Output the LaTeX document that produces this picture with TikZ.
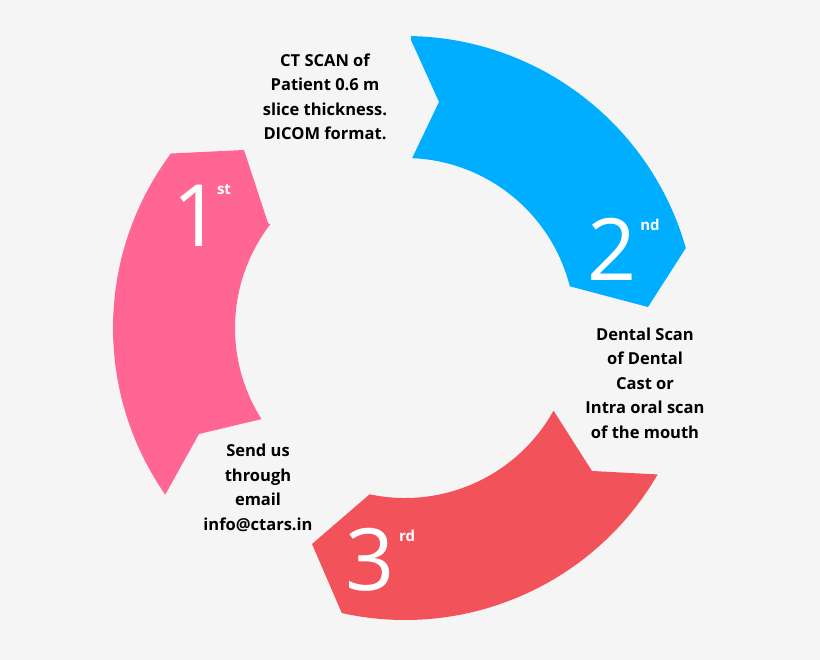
\documentclass[tikz,border=0pt]{standalone}
\usepackage{fontspec}
\setmainfont{Open Sans}
\usetikzlibrary{positioning}
\definecolor{bgcol}{HTML}{F5F5F5}
\definecolor{pinkseg}{HTML}{FF6694}
\definecolor{blueseg}{HTML}{00AEFF}
\definecolor{redseg}{HTML}{F2535B}
\begin{document}
\begin{tikzpicture}[x=1pt,y=-1pt,
    num/.style={text=white,inner sep=0pt,font=\fontsize{86}{86}\selectfont},
    sup/.style={text=white,inner sep=0pt,font=\fontsize{15}{15}\selectfont\bfseries},
    info/.style={align=center,font=\fontsize{16.5}{24.5}\selectfont\bfseries,text=black}]

  \fill[bgcol] (0,0) rectangle (820,660);
  \coordinate (c) at (405,328);

  % first segment
  \fill[pinkseg] ([shift={(c)}]145.2:292) arc[start angle=145.2, end angle=216.7, radius=292]
    -- (244,150) -- (268,223)
    -- ([shift={(c)}]217.5:170) arc[start angle=217.5, end angle=147.6, radius=170]
    -- (199,434) -- cycle;
  % second segment
  \fill[blueseg] (411,40) -- (439,102)
    -- ([shift={(c)}]272.4:170) arc[start angle=272.4, end angle=345.8, radius=170]
    -- (648,307)
    -- ([shift={(c)}]344.1:292) arc[start angle=344.1, end angle=271.2, radius=292] -- cycle;
  % third segment
  \fill[redseg] (592,471)
    -- ([shift={(c)}]30.1:292) arc[start angle=30.1, end angle=102.5, radius=292]
    -- (312,544)
    -- ([shift={(c)}]102:170) arc[start angle=102, end angle=29.1, radius=170] -- cycle;

  \node[num] (one) at (197,216) {1};
  \node[sup] (onesup) at (224,190) {st};
  \node[num] (two) at (612,249) {2};
  \node[sup] (twosup) at (650,225) {nd};
  \node[num] (three) at (370,560) {3};
  \node[sup] (threesup) at (407,536) {rd};

  \node[info] (ctscan) at (325,97) {CT SCAN of\\Patient 0.6 m\\slice thickness.\\DICOM format.};
  \node[info] (dental) at (645,383) {Dental Scan\\of Dental\\Cast or\\Intra oral scan\\of the mouth};
  \node[info] (sendus) at (258,488) {Send us\\through\\email\\info@ctars.in};
\end{tikzpicture}
\end{document}
